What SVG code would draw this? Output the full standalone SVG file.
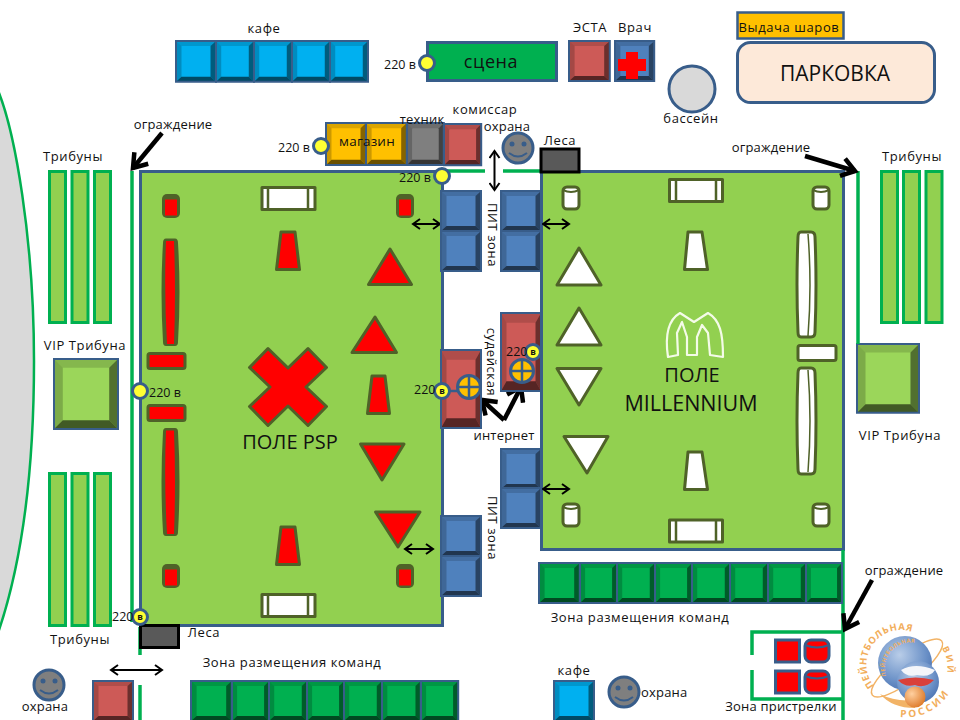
<svg xmlns="http://www.w3.org/2000/svg" width="960" height="720" viewBox="0 0 960 720">
<style>
text{font-family:"Open Sans","Noto Sans","Liberation Sans",sans-serif;font-size:13px;letter-spacing:.6px;fill:#111}
.m{text-anchor:middle}
.n{font-size:12.5px;letter-spacing:0}
.q{letter-spacing:.2px}
.v{font-size:9px;font-weight:700;letter-spacing:0;text-anchor:middle}
.big{font-size:20px;letter-spacing:0}
.lg{fill:#F2AE5C;font-weight:700;letter-spacing:0}
.sky{color:#00B0F0}.blu{color:#4F81BD}.red{color:#CD5A57}.grn{color:#00B050}.yel{color:#FFC000}.gry{color:#7F7F7F}.lgr{color:#9BD65A}
.tb{fill:#92D050;stroke:#00B050;stroke-width:3}
.fld{fill:#92D050;stroke:#385D8A;stroke-width:3}
.r{fill:#FF0000;stroke:#4F6228;stroke-width:3;stroke-linejoin:round}
.w{fill:#FFFFFF;stroke:#4F6228;stroke-width:3;stroke-linejoin:round}
.ol{fill:#4F6228}
.lid{fill:none;stroke:#4F6228;stroke-width:2}
.bar{fill:none;stroke:#4F6228;stroke-width:2.500}
.fence{fill:none;stroke:#00B050;stroke-width:3.5}
.th{fill:none;stroke:#000;stroke-width:2;marker-start:url(#h1);marker-end:url(#h1)}
.fat{fill:none;stroke:#000;stroke-width:4.5;marker-end:url(#h2)}
.pw{fill:#FFFF33;stroke:#385D8A;stroke-width:3}
.sm{fill:#7F7F7F;stroke:#385D8A;stroke-width:3}
.fc{fill:none;stroke:#385D8A;stroke-width:2.5}
.pl{fill:#FFC000;stroke:#385D8A;stroke-width:3}
.rs{fill:#FF0000;stroke:#385D8A;stroke-width:3}
.ey{fill:#385D8A}
.mo{fill:none;stroke:#385D8A;stroke-width:2}
</style>
<defs>
<marker id="h1" markerWidth="12" markerHeight="12" refX="10" refY="6" orient="auto-start-reverse" markerUnits="userSpaceOnUse"><path d="M3,1 L10,6 L3,11" fill="none" stroke="#000" stroke-width="2"/></marker>
<marker id="h2" markerWidth="22" markerHeight="22" refX="18" refY="11" orient="auto-start-reverse" markerUnits="userSpaceOnUse"><path d="M5,2 L18,11 L5,20" fill="none" stroke="#000" stroke-width="4.5"/></marker>
<g id="t">
<rect width="40" height="40" fill="currentColor"/>
<polygon points="0,0 40,0 34.500,5 5.500,5" fill="#000" fill-opacity=".14"/>
<polygon points="0,0 5.500,5 5.500,35 0,40" fill="#000" fill-opacity=".2"/>
<polygon points="40,0 34.500,5 34.500,35 40,40" fill="#000" fill-opacity=".48"/>
<polygon points="0,40 5.500,35 34.500,35 40,40" fill="#000" fill-opacity=".58"/>
<rect width="40" height="40" fill="none" stroke="#385D8A" stroke-width="2" vector-effect="non-scaling-stroke"/>
</g>
<g id="cr"><rect x="-9" y="-12" width="18" height="24" rx="5" class="ol"/><rect x="-6" y="-6.500" width="12" height="16" fill="#FF0000"/></g>
<g id="cw"><rect x="-8" y="-11" width="16" height="22" rx="4" class="w"/><path class="lid" d="M-8,-8 Q0,-4 8,-8"/></g>
<radialGradient id="g1" cx=".4" cy=".35" r=".8"><stop offset="0" stop-color="#B9CDE8"/><stop offset=".6" stop-color="#6C92C8"/><stop offset="1" stop-color="#3F66A8"/></radialGradient>
<radialGradient id="g2" cx=".35" cy=".35" r=".8"><stop offset="0" stop-color="#FFD0A0"/><stop offset="1" stop-color="#D96F1A"/></radialGradient>
<path id="arc1" d="M874,686 A34,34 0 0 1 928,643"/>
<path id="arc2" d="M886,676 A26,26 0 0 1 931,652"/>
<path id="arc3" d="M900,717 A50,50 0 0 0 954,682"/>
<path id="arc4" d="M942,648 A40,40 0 0 1 945,682"/>
</defs>

<rect width="960" height="720" fill="#fff"/>

<g id="stands-area">
<path d="M-3,88 C15,130 34,240 34,361 C34,480 20,570 -3,636 Z" fill="#D9D9D9"/>
<path d="M-3,88 C15,130 34,240 34,361 C34,480 20,570 -3,636" fill="none" stroke="#00B050" stroke-width="2.500"/>
</g>

<g id="tribune-left-top"><rect class="tb" x="49.500" y="171.500" width="16" height="151"/><rect class="tb" x="72" y="171.500" width="16" height="151"/><rect class="tb" x="94.500" y="171.500" width="16" height="151"/><text class="m" x="73" y="161">Трибуны</text></g>
<g id="tribune-left-bottom"><rect class="tb" x="49.500" y="473.500" width="16" height="152"/><rect class="tb" x="72" y="473.500" width="16" height="152"/><rect class="tb" x="94.500" y="473.500" width="16" height="152"/><text class="m" x="80" y="644">Трибуны</text></g>
<g id="tribune-right"><rect class="tb" x="881.500" y="171.500" width="16" height="151"/><rect class="tb" x="903.500" y="171.500" width="16" height="151"/><rect class="tb" x="926" y="171.500" width="16" height="151"/><text class="m" x="912" y="161">Трибуны</text></g>
<g id="vip-left"><use href="#t" class="lgr" transform="translate(54,359) scale(1.6,1.75)"/><text class="m" x="85" y="350">VIP Трибуна</text></g>
<g id="vip-right"><use href="#t" class="lgr" transform="translate(857,344) scale(1.55,1.72)"/><text class="m" x="900" y="440">VIP Трибуна</text></g>

<g id="field-psp">
<rect class="fld" x="140.500" y="171.500" width="302" height="454"/>
<use href="#cr" transform="translate(171,206)"/>
<use href="#cr" transform="translate(405,206)"/>
<use href="#cr" transform="translate(171,576)"/>
<use href="#cr" transform="translate(405,576)"/>
<rect class="w" x="262" y="187.500" width="53" height="22"/><path class="bar" d="M268,188 V209 M308,188 V209"/>
<rect class="w" x="262" y="594.500" width="53" height="22"/><path class="bar" d="M268,595 V616 M308,595 V616"/>
<path class="ol" d="M166,238.500 H175 Q178,238.500 178,243 Q181,292 178,342 Q178,346 175,346 H166 Q163,346 163,342 Q160,292 163,243 Q163,238.500 166,238.500 Z"/><path d="M166,241 H174 Q176,292 174,344 H167 Q164,292 166,241 Z" fill="#FF0000"/>
<path class="ol" d="M166,428 H175 Q178,428 178,432 Q181,482 178,532 Q178,536 175,536 H166 Q163,536 163,532 Q160,482 163,432 Q163,428 166,428 Z"/><path d="M166,430.500 H174 Q176,482 174,534 H167 Q164,482 166,430.500 Z" fill="#FF0000"/>
<rect class="r" x="148" y="353.500" width="37" height="15" rx="2"/>
<rect class="r" x="148" y="405.500" width="37" height="15" rx="2"/>
<polygon class="r" points="281,232 295,232 299.500,269.500 276.500,269.500"/>
<polygon class="r" points="372,376 385,376 389.500,413.500 367.500,413.500"/>
<polygon class="r" points="281,527 295,527 299.500,564.500 276.500,564.500"/>
<polygon class="r" points="390,249 411.500,284.500 368.500,284.500"/>
<polygon class="r" points="375,317 396.500,352.500 352,352.500"/>
<polygon class="r" points="360.500,444 404,444 382,480"/>
<polygon class="r" points="375.500,512 420,512 398,547"/>
<polygon class="r" points="268,348.500 288,368 308,348.500 326.500,367.500 306,387 326.500,406.500 308,425.500 288,406 268,425.500 249.500,406.500 270,387 249.500,367.500"/>
<text class="m big" x="290" y="449">ПОЛЕ PSP</text>
</g>

<g id="field-millennium">
<rect class="fld" x="541.500" y="171.500" width="302" height="378"/>
<use href="#cw" transform="translate(571,198)"/>
<use href="#cw" transform="translate(821,198)"/>
<use href="#cw" transform="translate(571,515)"/>
<use href="#cw" transform="translate(821,515)"/>
<rect class="w" x="669.500" y="179.500" width="53" height="22"/><path class="bar" d="M676,180 V201 M716,180 V201"/>
<rect class="w" x="669.500" y="520" width="53" height="22"/><path class="bar" d="M676,520 V542 M716,520 V542"/>
<polygon class="w" points="688,232 702,232 707.500,269.500 684.500,269.500"/>
<polygon class="w" points="688,452 702,452 707.500,489.500 684.500,489.500"/>
<polygon class="w" points="579,248 601,285 557,285"/>
<polygon class="w" points="579,308 601,345 557,345"/>
<polygon class="w" points="557,368.500 601,368.500 579,405"/>
<polygon class="w" points="564,436.500 608,436.500 587,473"/>
<path class="w" d="M801,232 H811 Q815,232 815,237 Q817,285 815,332 Q815,337 811,337 H801 Q798,337 798,332 Q796,285 798,237 Q798,232 801,232 Z"/><path d="M808,234 Q812,285 808,336" fill="none" stroke="#4F6228" stroke-width="1.500"/>
<path class="w" d="M801,368 H811 Q815,368 815,373 Q817,421 815,469 Q815,474 811,474 H801 Q798,474 798,469 Q796,421 798,373 Q798,368 801,368 Z"/><path d="M808,370 Q812,421 808,472" fill="none" stroke="#4F6228" stroke-width="1.500"/>
<rect class="w" x="798" y="345.500" width="38" height="15" rx="2"/>
<path d="M668,357 C665,337 668,320 680,313 L694,322 L708,313 C720,320 723,333 723,357 L710,355 L708,333 L702,325 L697,337 L697,355 L687,355 L687,337 L682,322 L677,333 L678,355 Z" fill="none" stroke="#F4FBE8" stroke-width="2.200" stroke-linejoin="round"/>
<text class="m big" x="692" y="382">ПОЛЕ</text>
<text class="m big" x="691" y="411" style="font-size:21.500px">MILLENNIUM</text>
</g>

<g id="connectors">
<path class="fence" d="M132,171 V622"/>
<path class="fence" d="M140,627 V655"/>
<path class="fence" d="M140,685 V720"/>
<path class="fence" d="M443,171 H485"/>
<path class="fence" d="M503,171 H540"/>
<path class="fence" d="M858,171 V344"/>
<path class="fence" d="M843,550 V720"/>
<path class="fence" d="M843,632 H752 V655 M752,670 V699 H843"/>
<path class="th" d="M494.500,151 V190"/>
<path class="th" d="M413,224 H440"/>
<path class="th" d="M543,224 H569"/>
<path class="th" d="M543,489 H569"/>
<path class="th" d="M405,549 H433"/>
<path class="th" d="M111,670 H162"/>
<path class="fat" d="M162,133 L133,168"/>
<path class="fat" d="M805,156 L855,171"/>
<path class="fat" d="M872,580 L845,629"/>
<path class="fat" d="M504,420 L521,387"/>
<path class="fat" d="M504,420 L482,400"/>
<text class="m q" x="173" y="129">ограждение</text>
<text class="m q" x="771" y="152">ограждение</text>
<text class="m q" x="904" y="575">ограждение</text>
</g>

<g id="cafe-top">
<use href="#t" class="sky" transform="translate(176,41) scale(1,1.02)"/><use href="#t" class="sky" transform="translate(216,41) scale(.95,1.02)"/><use href="#t" class="sky" transform="translate(254,41) scale(.95,1.02)"/><use href="#t" class="sky" transform="translate(292,41) scale(.95,1.02)"/><use href="#t" class="sky" transform="translate(330,41) scale(.95,1.02)"/>
<text class="m" x="264" y="33">кафе</text>
</g>
<g id="stage"><rect x="427.500" y="42.500" width="129" height="38" fill="#00B050" stroke="#385D8A" stroke-width="3"/><text class="m" x="491" y="68" style="font-size:18px">сцена</text></g>
<g id="power-stage"><circle class="pw" cx="427" cy="63" r="7.500"/><text class="n" x="384" y="69">220 в</text></g>
<g id="esta"><use href="#t" class="red" transform="translate(569,41) scale(1.02,1)"/><text class="m" x="590" y="32">ЭСТА</text></g>
<g id="doctor"><use href="#t" class="blu" transform="translate(615,41) scale(.98,1)"/><polygon points="626,52 638,52 638,59 646,59 646,71 638,71 638,79 626,79 626,71 618,71 618,59 626,59" fill="#FF0000"/><text class="m" x="635" y="32">Врач</text></g>
<g id="balls"><rect x="737.500" y="12.500" width="106" height="26" fill="#FFC000" stroke="#385D8A" stroke-width="2.500"/><text class="m" x="789" y="32">Выдача шаров</text></g>
<g id="parking"><rect x="737.500" y="42.500" width="197" height="60" rx="13" fill="#FDE9D9" stroke="#385D8A" stroke-width="3"/><text class="m" x="835" y="81" style="font-size:21px;letter-spacing:0">ПАРКОВКА</text></g>
<g id="pool"><circle cx="692" cy="89" r="23" fill="#D9D9D9" stroke="#385D8A" stroke-width="3"/><text class="m" x="691" y="123">бассейн</text></g>

<g id="shop"><use href="#t" class="yel" transform="translate(326,123) scale(1,1.05)"/><use href="#t" class="yel" transform="translate(366,123) scale(1.02,1.05)"/><text class="m" x="367" y="146" style="font-size:13.5px;letter-spacing:.2px">магазин</text></g>
<g id="power-shop"><circle class="pw" cx="321" cy="146" r="7.500"/><text class="n" x="278" y="152">220 в</text></g>
<g id="tech"><use href="#t" class="gry" transform="translate(407,123) scale(.92,1.05)"/><text class="m q" x="422" y="124">техник</text></g>
<g id="commissioner"><use href="#t" class="red" transform="translate(444,124) scale(.93,1.03)"/><text class="m" x="485" y="114">комиссар</text></g>
<g id="guard-top"><circle class="sm" cx="518" cy="148" r="15"/><circle class="ey" cx="512" cy="144" r="2.500"/><circle class="ey" cx="524" cy="144" r="2.500"/><path class="mo" d="M509,153 Q518,160 527,153"/><text class="m q" x="507" y="131">охрана</text></g>
<g id="scaffold-top"><rect x="541" y="149" width="38" height="23" fill="#595959" stroke="#000" stroke-width="3"/><text class="m" x="560" y="145">Леса</text></g>
<g id="power-top"><circle class="pw" cx="442" cy="176" r="7.500"/><text class="n" x="399" y="182">220 в</text></g>

<g id="pit-left-top"><use href="#t" class="blu" transform="translate(441,191)"/><use href="#t" class="blu" transform="translate(441,231)"/></g>
<g id="pit-right-top"><use href="#t" class="blu" transform="translate(501,191)"/><use href="#t" class="blu" transform="translate(501,231)"/><text class="m" transform="translate(488,235) rotate(90)">ПИТ зона</text></g>
<g id="pit-left-bottom"><use href="#t" class="blu" transform="translate(441,516)"/><use href="#t" class="blu" transform="translate(441,556)"/></g>
<g id="pit-right-bottom"><use href="#t" class="blu" transform="translate(501,449)"/><use href="#t" class="blu" transform="translate(501,488)"/><text class="m" transform="translate(488,528) rotate(90)">ПИТ зона</text></g>

<g id="judge-left"><use href="#t" class="red" transform="translate(441,350) scale(1,1.95)"/>
<path d="M443,391 H469" stroke="#385D8A" stroke-width="2.500"/>
<circle class="pl" cx="469" cy="387" r="11.500"/><path class="fc" d="M457.500,387 H480.500 M469,375.500 V398.500"/>
<circle class="pw" cx="442" cy="391" r="7.500"/><text class="v" x="442" y="394">в</text><text class="n" x="414" y="394">220</text></g>
<g id="judge-right"><use href="#t" class="red" transform="translate(501,313) scale(1,1.95)"/>
<circle class="pl" cx="522" cy="371" r="11.500"/><path class="fc" d="M510.500,371 H533.500 M522,359.500 V382.500"/>
<circle class="pw" cx="533" cy="352" r="7.500"/><text class="v" x="533" y="355">в</text><text class="n" x="506" y="356">220</text></g>
<text class="m" transform="translate(487,362) rotate(90)">судейская</text>
<text class="m q" x="504" y="440">интернет</text>

<g id="power-left"><circle class="pw" cx="140" cy="391" r="7.500"/><text class="n" x="149" y="397">220 в</text></g>
<g id="scaffold-bottom"><rect x="140.500" y="625.500" width="38" height="22" fill="#595959" stroke="#000" stroke-width="3"/><text class="m" x="204" y="637">Леса</text></g>
<g id="power-bottom"><circle class="pw" cx="140" cy="617" r="7.500"/><text class="v" x="140" y="620">в</text><text class="n" x="112" y="621">220</text></g>

<g id="teams-right">
<use href="#t" class="grn" transform="translate(539,563) scale(1.02,1)"/><use href="#t" class="grn" transform="translate(580,563) scale(.93,1)"/><use href="#t" class="grn" transform="translate(617,563) scale(.95,1)"/><use href="#t" class="grn" transform="translate(655,563) scale(.93,1)"/><use href="#t" class="grn" transform="translate(692,563) scale(.95,1)"/><use href="#t" class="grn" transform="translate(730,563) scale(.95,1)"/><use href="#t" class="grn" transform="translate(768,563) scale(.95,1)"/><use href="#t" class="grn" transform="translate(806,563) scale(.9,1)"/>
<text class="m" x="640" y="622">Зона размещения команд</text>
</g>
<g id="teams-bottom">
<use href="#t" class="grn" transform="translate(191,681) scale(1.02,1)"/><use href="#t" class="grn" transform="translate(232,681) scale(.93,1)"/><use href="#t" class="grn" transform="translate(269,681) scale(.95,1)"/><use href="#t" class="grn" transform="translate(307,681) scale(.93,1)"/><use href="#t" class="grn" transform="translate(344,681) scale(.95,1)"/><use href="#t" class="grn" transform="translate(382,681) scale(.97,1)"/><use href="#t" class="grn" transform="translate(421,681) scale(.93,1)"/>
<text class="m" x="292" y="667">Зона размещения команд</text>
</g>
<g id="red-bottom"><use href="#t" class="red" transform="translate(93,681)"/></g>
<g id="guard-left"><circle class="sm" cx="49" cy="685" r="15"/><circle class="ey" cx="43" cy="681" r="2.500"/><circle class="ey" cx="55" cy="681" r="2.500"/><path class="mo" d="M40,690 Q49,697 58,690"/><text class="m q" x="45" y="711">охрана</text></g>
<g id="cafe-bottom"><use href="#t" class="sky" transform="translate(554,681)"/><text class="m" x="574" y="675">кафе</text></g>
<g id="guard-right"><circle class="sm" cx="624" cy="692" r="15"/><circle class="ey" cx="618" cy="688" r="2.500"/><circle class="ey" cx="630" cy="688" r="2.500"/><path class="mo" d="M615,697 Q624,704 633,697"/><text class="q" x="641" y="697">охрана</text></g>
<g id="shooting-zone">
<rect class="rs" x="775.500" y="640" width="24" height="22"/>
<rect class="rs" x="775.500" y="671" width="24" height="22"/>
<rect class="rs" x="805" y="640" width="24" height="22" rx="6"/><path class="mo" d="M805,645 Q817,650 829,645"/>
<rect class="rs" x="805" y="671" width="24" height="22" rx="6"/><path class="mo" d="M805,676 Q817,681 829,676"/>
<text class="m q" x="781" y="711">Зона пристрелки</text>
</g>
<g id="logo">
<ellipse cx="907" cy="668" rx="44" ry="13" transform="rotate(-38 907 668)" fill="none" stroke="#F2B366" stroke-width="1.500"/>
<circle cx="905" cy="663" r="27" fill="url(#g1)"/>
<circle cx="918" cy="682" r="21" fill="url(#g1)"/>
<path d="M901,670 Q915,662 935,670 Q930,678 917,675 Q907,678 901,670 Z" fill="#F4F6FA"/>
<path d="M898,680 Q915,675 934,680 Q925,689 915,685 Q905,688 898,680 Z" fill="#D9403A"/>
<path d="M915,700 Q895,702 880,694 Q892,708 915,708 Z" fill="#F2B366"/>
<circle cx="915" cy="697" r="10.500" fill="url(#g2)"/>
<text class="lg" style="font-size:9.500px"><textPath href="#arc1" textLength="88">ПЕЙНТБОЛЬНАЯ</textPath></text>
<text class="lg" style="font-size:5.500px"><textPath href="#arc2" textLength="52">ПЕЙНТБОЛЬНАЯ</textPath></text>
<text class="lg" style="font-size:10px"><textPath href="#arc3">Р О С С И И</textPath></text>
<text class="lg" style="font-size:9px"><textPath href="#arc4">В И Й</textPath></text>
</g>
</svg>
